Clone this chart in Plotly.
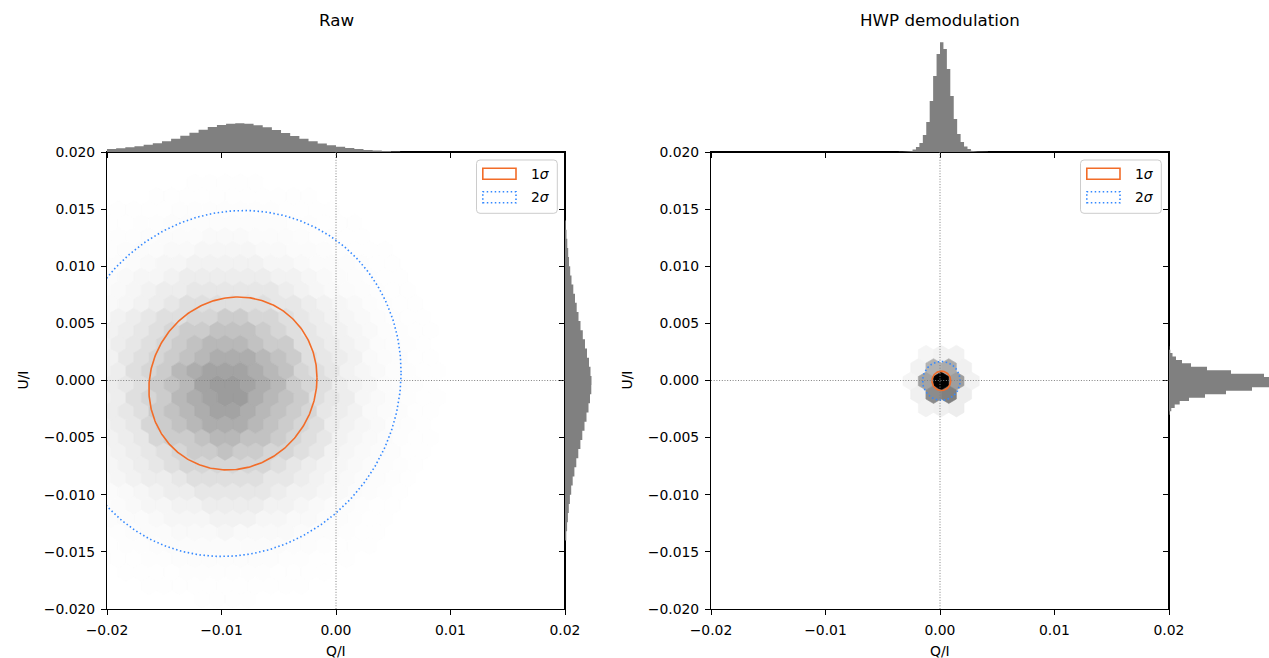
import numpy as np
import plotly.graph_objects as go

FIG_W, FIG_H = 1269, 658
FONT = "DejaVu Sans"
TICK_SIZE = 13.9
TITLE_SIZE = 16.7

# ---------------------------------------------------------------- data
panel_titles = ["Raw", "HWP demodulation"]
x_label, y_label = "Q/I", "U/I"
legend_labels = ["1<i>σ</i>", "2<i>σ</i>"]

axis_lim = [-0.02, 0.02]
q_ticks = [-0.02, -0.01, 0.00, 0.01, 0.02]
u_ticks = [-0.020, -0.015, -0.010, -0.005, 0.000, 0.005, 0.010, 0.015, 0.020]

# marginal histograms: first bin edge, bin width, bar heights (counts, arb. units)
raw_q_start, raw_q_width = -0.0200, 0.0008
raw_q_counts = [3.0, 3.8, 4.7, 5.8, 7.2, 8.8, 10.8, 13.3, 16.2, 19.3, 22.3, 24.9,
                26.9, 28.3, 28.7, 28.2, 26.8, 24.7, 22.0, 19.0, 16.0, 13.2, 10.7,
                8.5, 6.7, 5.2, 4.0, 3.0, 2.1, 1.4, 0.9, 0.4]

raw_u_start, raw_u_width = -0.0140, 0.0008
raw_u_counts = [1.3, 2.1, 2.9, 3.8, 4.9, 6.2, 7.7, 9.4, 11.3, 13.3, 15.4, 17.3,
                19.5, 21.5, 23.5, 25.0, 26.3, 26.5, 25.5, 24.0, 22.0, 20.0, 17.8,
                15.5, 13.5, 11.7, 10.0, 8.3, 6.5, 5.2, 4.0, 3.2, 2.3, 1.5, 0.8]

hwp_q_start, hwp_q_width = -0.0036, 0.0003
hwp_q_counts = [0.3, 0.4, 0.5, 1.0, 2.5, 5.0, 9.0, 17.0, 30.0, 51.0, 76.0, 98.0,
                109.7, 103.0, 83.0, 56.0, 33.0, 18.0, 10.0, 5.5, 3.0, 1.2, 0.6,
                0.4, 0.3, 0.2]

hwp_u_start, hwp_u_width = -0.0030, 0.0003
hwp_u_counts = [0.7, 2.3, 5.7, 10.7, 20.0, 36.0, 57.0, 83.0, 115.0, 135.0, 125.0,
                95.0, 62.0, 38.0, 22.0, 13.0, 7.0, 3.5, 1.3, 0.3]

# hexbin shading (0 = white, 1 = black)
raw_hex_center = (-0.0095, -0.0008)
raw_hex_r_step = 0.001
raw_hex_shade = [0.40, 0.39, 0.36, 0.32, 0.28, 0.24, 0.20, 0.16, 0.125, 0.095,
                 0.07, 0.05, 0.036, 0.025, 0.017, 0.011, 0.007, 0.004, 0.002]

hwp_hex_center = (0.0001, -0.00005)
hwp_hex_core = 1.0
# first ring: E, NE, NW, W, SW, SE
hwp_hex_ring1 = [0.38, 0.33, 0.30, 0.36, 0.45, 0.50]
# second ring, counter-clockwise from E
hwp_hex_ring2 = [0.05, 0.06, 0.05, 0.05, 0.04, 0.05, 0.04, 0.06, 0.05, 0.06, 0.07, 0.07]

# 1-sigma contour: centre and covariance (xx, xy, yy)
raw_contour_center = (-0.0090, -0.00026)
raw_contour_cov = (5.39e-5, 3.6e-6, 5.73e-5)
hwp_contour_center = (0.00012, -0.00003)
hwp_contour_cov = (6.72e-7, 0.0, 7.23e-7)
sigma_levels = [1, 2]

# ---------------------------------------------------------------- styling
HEX_DX = 0.00133      # column spacing of the hex lattice
HEX_DY = 0.001176     # row spacing of the hex lattice
HIST_COLOR = "#808080"
C1 = "#f26c28"
C2 = "#3388ff"
DOT_2SIG = "1.5px,2.5px"
DOT_REF = "1px,1.7px"

# pixel boxes of the main axes
main_px = [dict(x0=107, x1=565, y0=152, y1=609),
           dict(x0=711, x1=1169, y0=152, y1=609)]
TOP_HIST_TOP = 37      # pixel top of the upper marginal axes
TOP_HIST_RANGE = 115   # its height in px (1 unit per px)
SIDE_HIST_W = 100      # width in px of the side marginal axes


def px_x(p):
    return p / FIG_W


def px_y(p):
    return 1 - p / FIG_H


def hex_outline(cx, cy):
    hx = HEX_DX / 2
    xs = [cx + hx, cx + hx, cx, cx - hx, cx - hx, cx, cx + hx]
    ys = [cy - HEX_DY / 3, cy + HEX_DY / 3, cy + 2 * HEX_DY / 3, cy + HEX_DY / 3,
          cy - HEX_DY / 3, cy - 2 * HEX_DY / 3, cy - HEX_DY / 3]
    return xs, ys


def hex_traces(cells, xa, ya):
    groups = {}
    for cx, cy, d in cells:
        g = int(round(255 * (1 - d)))
        if g >= 255:
            continue
        groups.setdefault(g, []).append((cx, cy))
    out = []
    for g in sorted(groups, reverse=True):
        xs, ys = [], []
        for cx, cy in groups[g]:
            hx_, hy_ = hex_outline(cx, cy)
            xs += hx_ + [None]
            ys += hy_ + [None]
        col = f"rgb({g},{g},{g})"
        out.append(go.Scatter(x=xs, y=ys, mode="lines", fill="toself",
                              fillcolor=col, line=dict(color=col, width=0.6),
                              hoverinfo="skip", showlegend=False,
                              xaxis=xa, yaxis=ya))
    return out


def raw_cells():
    cells = []
    x0, y0 = -0.0210, -0.0215
    for r in range(40):
        cy = y0 + r * HEX_DY
        off = 0.5 * (r % 2)
        for i in range(35):
            cx = x0 + (i + off) * HEX_DX
            rad = np.hypot(cx - raw_hex_center[0], cy - raw_hex_center[1])
            k = int(round(rad / raw_hex_r_step))
            if k < len(raw_hex_shade):
                cells.append((cx, cy, raw_hex_shade[k]))
    return cells


def hwp_cells():
    cx0, cy0 = hwp_hex_center
    ring1 = [(1, 0), (0.5, 1), (-0.5, 1), (-1, 0), (-0.5, -1), (0.5, -1)]
    ring2 = [(2, 0), (1.5, 1), (1, 2), (0, 2), (-1, 2), (-1.5, 1),
             (-2, 0), (-1.5, -1), (-1, -2), (0, -2), (1, -2), (1.5, -1)]
    cells = [(cx0, cy0, hwp_hex_core)]
    for (a, b), d in zip(ring1, hwp_hex_ring1):
        cells.append((cx0 + a * HEX_DX, cy0 + b * HEX_DY, d))
    for (a, b), d in zip(ring2, hwp_hex_ring2):
        cells.append((cx0 + a * HEX_DX, cy0 + b * HEX_DY, d))
    return cells


def ellipse(center, cov, k, n=361):
    m = np.array([[cov[0], cov[1]], [cov[1], cov[2]]])
    L = np.linalg.cholesky(m)
    t = np.linspace(0, 2 * np.pi, n)
    pts = k * (L @ np.vstack([np.cos(t), np.sin(t)]))
    return center[0] + pts[0], center[1] + pts[1]


def hist_step(start, width, counts, horizontal, xa, ya):
    """Filled step outline of a histogram (no seams between bins)."""
    edges = start + width * np.arange(len(counts) + 1)
    pos, val = [edges[0]], [0.0]
    for i, c in enumerate(counts):
        pos += [edges[i], edges[i + 1]]
        val += [c, c]
    pos.append(edges[-1])
    val.append(0.0)
    kw = dict(mode="lines", line=dict(color=HIST_COLOR, width=0),
              fillcolor=HIST_COLOR, hoverinfo="skip", showlegend=False,
              xaxis=xa, yaxis=ya)
    if horizontal:
        return go.Scatter(x=val, y=pos, fill="tozerox", **kw)
    return go.Scatter(x=pos, y=val, fill="tozeroy", **kw)


fig = go.Figure()

panels = [
    dict(cells=raw_cells(), center=raw_contour_center, cov=raw_contour_cov,
         q=(raw_q_start, raw_q_width, raw_q_counts),
         u=(raw_u_start, raw_u_width, raw_u_counts)),
    dict(cells=hwp_cells(), center=hwp_contour_center, cov=hwp_contour_cov,
         q=(hwp_q_start, hwp_q_width, hwp_q_counts),
         u=(hwp_u_start, hwp_u_width, hwp_u_counts)),
]

tick_font = dict(family=FONT, size=TICK_SIZE, color="black")
shapes, annotations = [], []

for p, (panel, box) in enumerate(zip(panels, main_px)):
    n = 3 * p
    xm, ym = f"x{n + 1 if n else ''}", f"y{n + 1 if n else ''}"
    xt, yt = f"x{n + 2}", f"y{n + 2}"
    xs_, ys_ = f"x{n + 3}", f"y{n + 3}"

    for tr in hex_traces(panel["cells"], xm, ym):
        fig.add_trace(tr)

    for lvl, col, dash in zip(sigma_levels, [C1, C2], ["solid", DOT_2SIG]):
        ex, ey = ellipse(panel["center"], panel["cov"], lvl)
        fig.add_trace(go.Scatter(x=ex, y=ey, mode="lines",
                                 line=dict(color=col, width=1.6, dash=dash),
                                 hoverinfo="skip", showlegend=False,
                                 xaxis=xm, yaxis=ym))

    fig.add_trace(hist_step(*panel["q"], False, xt, yt))
    fig.add_trace(hist_step(*panel["u"], True, xs_, ys_))

    xdom = [px_x(box["x0"]), px_x(box["x1"])]
    ydom = [px_y(box["y1"]), px_y(box["y0"])]
    top_dom = [px_y(box["y0"]), px_y(TOP_HIST_TOP)]
    side_dom = [px_x(box["x1"]), min(1.0, px_x(box["x1"] + SIDE_HIST_W))]

    common = dict(showgrid=False, zeroline=False, showline=True, linecolor="black",
                  linewidth=1.1, ticks="outside", ticklen=5, tickwidth=1.1,
                  tickcolor="black", tickfont=tick_font, automargin=False)
    sfx = lambda k: str(k) if k > 1 else ""
    fig.layout[f"xaxis{sfx(n + 1)}"] = dict(domain=xdom, range=axis_lim, anchor=ym,
                                            tickvals=q_ticks, tickformat=".2f",
                                            mirror=True, ticklabelstandoff=3, **common)
    fig.layout[f"yaxis{sfx(n + 1)}"] = dict(domain=ydom, range=axis_lim, anchor=xm,
                                            tickvals=u_ticks, tickformat=".3f",
                                            mirror=True, ticklabelstandoff=3, **common)
    fig.layout[f"xaxis{n + 2}"] = dict(domain=xdom, range=axis_lim, anchor=yt,
                                       tickvals=q_ticks, showticklabels=False, **common)
    fig.layout[f"yaxis{n + 2}"] = dict(domain=top_dom, range=[0, TOP_HIST_RANGE],
                                       anchor=xt, visible=False, automargin=False)
    fig.layout[f"xaxis{n + 3}"] = dict(domain=side_dom, range=[0, SIDE_HIST_W],
                                       anchor=ys_, visible=False, automargin=False)
    fig.layout[f"yaxis{n + 3}"] = dict(domain=ydom, range=axis_lim, anchor=xs_,
                                       side="left", tickvals=u_ticks,
                                       showticklabels=False, **common)

    # dotted reference lines through the origin
    shapes.append(dict(type="line", xref=xm, yref=f"{ym} domain", x0=0, x1=0, y0=0, y1=1,
                       line=dict(color="#808080", width=1, dash=DOT_REF), layer="above"))
    shapes.append(dict(type="line", xref=f"{xm} domain", yref=ym, x0=0, x1=1, y0=0, y1=0,
                       line=dict(color="#808080", width=1, dash=DOT_REF), layer="above"))

    # legend box with rectangular contour handles
    bl, br = box["x1"] - 88.5, box["x1"] - 7.7
    bt, bb = box["y0"] + 8, box["y0"] + 61.3
    r = 3.5
    pts = [("M", bl + r, bt), ("L", br - r, bt), ("Q", br, bt, br, bt + r),
           ("L", br, bb - r), ("Q", br, bb, br - r, bb), ("L", bl + r, bb),
           ("Q", bl, bb, bl, bb - r), ("L", bl, bt + r), ("Q", bl, bt, bl + r, bt)]
    path = ""
    for seg in pts:
        c = seg[0]
        coords = seg[1:]
        s = " ".join(f"{px_x(coords[i]):.6f},{px_y(coords[i + 1]):.6f}"
                     for i in range(0, len(coords), 2))
        path += f"{c}{s} "
    shapes.append(dict(type="path", xref="paper", yref="paper", path=path + "Z",
                       line=dict(color="#cccccc", width=1),
                       fillcolor="rgba(255,255,255,0.8)", layer="above"))
    for j, (col, dash, lab) in enumerate(zip([C1, C2], ["solid", DOT_2SIG], legend_labels)):
        hy0 = bt + 8.3 + j * 23.4
        hy1 = hy0 + 11
        shapes.append(dict(type="rect", xref="paper", yref="paper",
                           x0=px_x(bl + 6.3), x1=px_x(bl + 39.5),
                           y0=px_y(hy1), y1=px_y(hy0),
                           line=dict(color=col, width=1.6, dash=dash),
                           fillcolor="rgba(0,0,0,0)", layer="above"))
        annotations.append(dict(text=lab, xref="paper", yref="paper",
                                x=px_x(bl + 52), y=px_y((hy0 + hy1) / 2),
                                xanchor="left", yanchor="middle", showarrow=False,
                                font=dict(family=FONT, size=TICK_SIZE, color="black")))

    cx = (box["x0"] + box["x1"]) / 2
    annotations.append(dict(text=panel_titles[p], xref="paper", yref="paper",
                            x=px_x(cx), y=px_y(20), xanchor="center", yanchor="middle",
                            showarrow=False, font=dict(family=FONT, size=TITLE_SIZE, color="black")))
    annotations.append(dict(text=x_label, xref="paper", yref="paper",
                            x=px_x(cx), y=px_y(651), xanchor="center", yanchor="middle",
                            showarrow=False, font=dict(family=FONT, size=TICK_SIZE, color="black")))
    annotations.append(dict(text=y_label, xref="paper", yref="paper", textangle=-90,
                            x=px_x(box["x0"] - 85), y=px_y((box["y0"] + box["y1"]) / 2),
                            xanchor="center", yanchor="middle", showarrow=False,
                            font=dict(family=FONT, size=TICK_SIZE, color="black")))

fig.update_layout(width=FIG_W, height=FIG_H, margin=dict(l=0, r=0, t=0, b=0),
                  paper_bgcolor="white", plot_bgcolor="rgba(0,0,0,0)",
                  showlegend=False, shapes=shapes, annotations=annotations,
                  font=dict(family=FONT, color="black"))

fig.write_html("out.html")
